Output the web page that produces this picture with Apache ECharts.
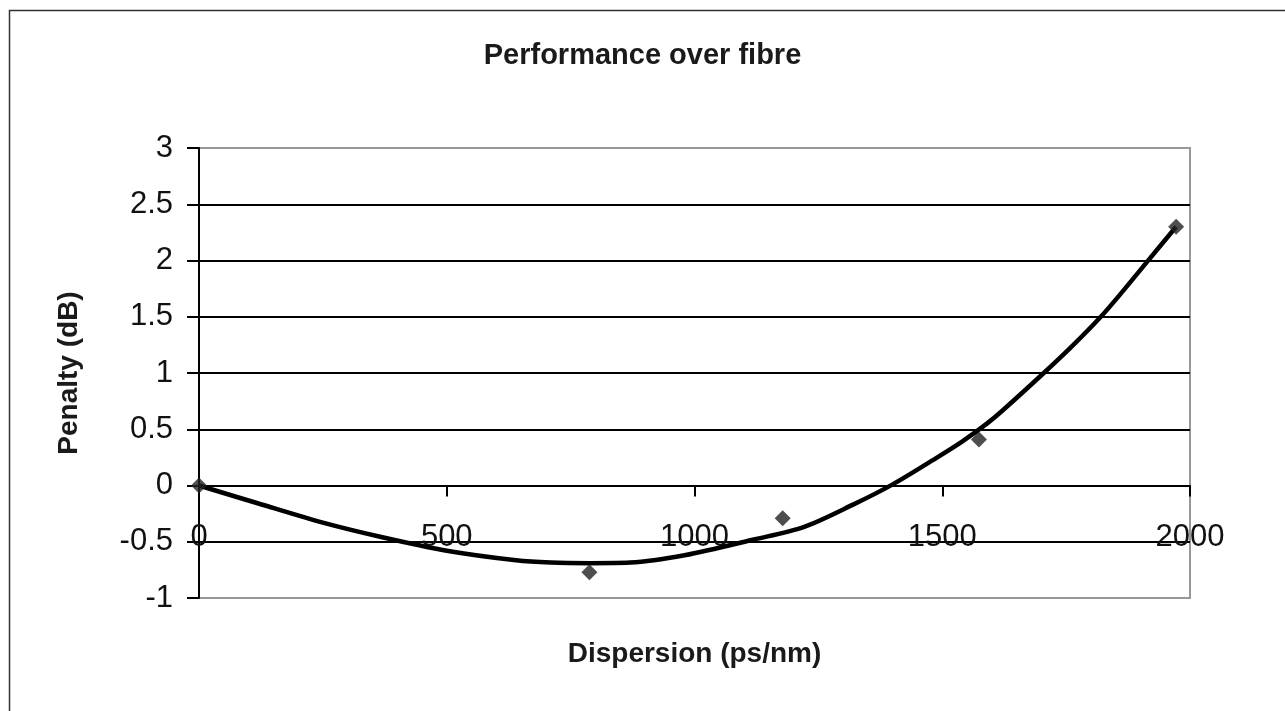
<!DOCTYPE html>
<html>
<head>
<meta charset="utf-8">
<script src="https://cdn.jsdelivr.net/npm/echarts@6/dist/echarts.min.js"></script>
<style>html,body{margin:0;padding:0;background:#fff}#c{width:1285px;height:711px}</style>
</head>
<body>
<div id="c"></div>
<script>
const measured = [[0, 0], [788, -0.77], [1178, -0.29], [1574, 0.41], [1972, 2.30]];
const trend = [[0, 0], [120, -0.16], [250, -0.33], [370, -0.46], [500, -0.58], [640, -0.665], [710, -0.685], [790, -0.69], [870, -0.685], [980, -0.62], [1120, -0.48], [1220, -0.37], [1320, -0.17], [1400, 0.01], [1490, 0.25], [1540, 0.39], [1590, 0.55], [1620, 0.66], [1700, 0.98], [1760, 1.23], [1820, 1.5], [1865, 1.73], [1910, 1.97], [1972, 2.3]];
const xTicks = [0, 500, 1000, 1500, 2000];
const yTicks = [-1, -0.5, 0, 0.5, 1, 1.5, 2, 2.5, 3];

const font = 'Liberation Sans, Arial, Helvetica, sans-serif';
const chart = echarts.init(document.getElementById('c'), null, {renderer: 'canvas'});
chart.setOption({
  animation: false,
  backgroundColor: '#fff',
  title: {
    text: 'Performance over fibre', left: 'center', top: 36,
    textStyle: {fontFamily: font, fontSize: 29, fontWeight: 'bold', color: '#1a1a1a'}
  },
  graphic: [{
    type: 'rect', left: 7, top: 8, shape: {width: 1400, height: 800},
    style: {fill: 'none', stroke: '#333', lineWidth: 1.5}, silent: true
  }],
  grid: {left: 199, right: 95, top: 148, bottom: 113, outerBoundsMode: 'none', containLabel: false,
    show: true, borderColor: '#999', borderWidth: 2, backgroundColor: 'transparent'},
  xAxis: {
    type: 'value', min: xTicks[0], max: xTicks[xTicks.length - 1], interval: 500,
    name: 'Dispersion (ps/nm)', nameLocation: 'middle', nameGap: 42,
    nameTextStyle: {fontFamily: font, fontSize: 28, fontWeight: 'bold', color: '#1a1a1a'},
    axisLine: {show: true, onZero: true, lineStyle: {color: '#000', width: 2}},
    axisTick: {show: true, length: 11, lineStyle: {color: '#000', width: 2}},
    axisLabel: {fontFamily: font, fontSize: 31, color: '#111', margin: -76, showMinLabel: true, showMaxLabel: true,
      formatter: v => String(v)},
    splitLine: {show: false}
  },
  yAxis: {
    type: 'value', min: yTicks[0], max: yTicks[yTicks.length - 1], interval: 0.5,
    name: 'Penalty (dB)', nameLocation: 'middle', nameGap: 116,
    nameTextStyle: {fontFamily: font, fontSize: 28, fontWeight: 'bold', color: '#1a1a1a'},
    axisLine: {show: true, lineStyle: {color: '#000', width: 2}},
    axisTick: {show: true, length: 12, lineStyle: {color: '#000', width: 2}},
    axisLabel: {fontFamily: font, fontSize: 31, color: '#111', margin: 26, formatter: v => String(v)},
    splitLine: {show: true, showMinLine: false, showMaxLine: false, lineStyle: {color: '#000', width: 2}}
  },
  series: [
    {
      type: 'line', data: trend, smooth: 0.3, symbol: 'none', z: 3,
      lineStyle: {color: '#000', width: 4.5}
    },
    {
      type: 'scatter', data: measured, symbol: 'diamond', symbolSize: 16, z: 4,
      itemStyle: {color: '#222'}
    }
  ]
});
</script>
</body>
</html>
